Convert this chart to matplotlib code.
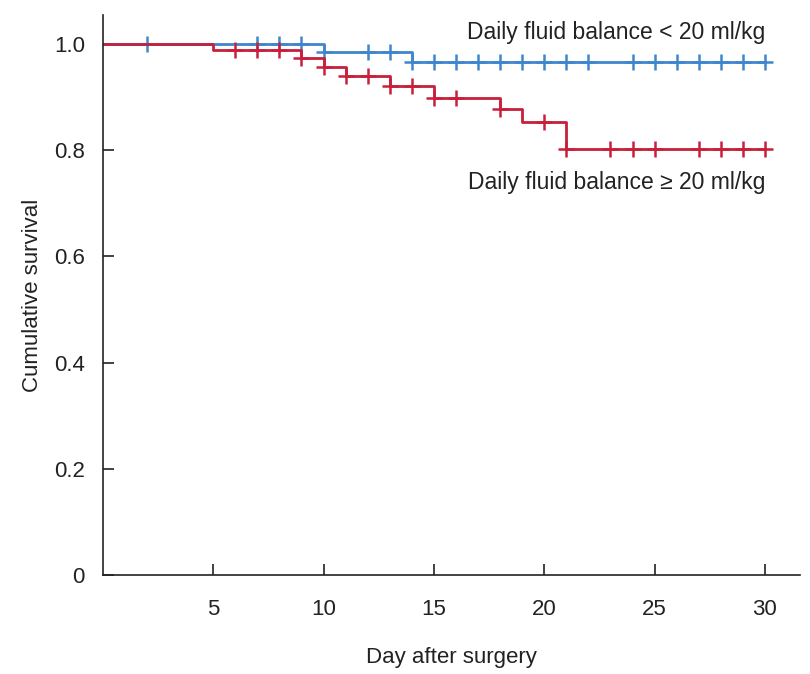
import numpy as np
import matplotlib
matplotlib.use("Agg")
import matplotlib.pyplot as plt

plt.rcParams["font.family"] = ["Liberation Sans", "DejaVu Sans"]

# Kaplan-Meier steps (time of drop, survival after drop)
low_t = [0, 10, 14, 30]
low_s = [1.0, 0.985, 0.966, 0.966]
high_t = [0, 5, 9, 10, 11, 13, 15, 18, 19, 21, 30]
high_s = [1.0, 0.989, 0.974, 0.957, 0.940, 0.920, 0.899, 0.877, 0.854, 0.802, 0.802]

# censored observations (day)
low_cens = [2, 7, 8, 9, 10, 12, 13, 14, 15, 16, 17, 18, 19, 20, 21, 22, 24, 25, 26, 27, 28, 29, 30]
high_cens = [6, 7, 8, 9, 10, 11, 12, 13, 14, 15, 16, 18, 20, 21, 23, 24, 25, 27, 28, 29, 30]

x_ticks = [5, 10, 15, 20, 25, 30]
y_ticks = [0, 0.2, 0.4, 0.6, 0.8, 1.0]
y_labels = ["0", "0.2", "0.4", "0.6", "0.8", "1.0"]

BLUE = "#3f86cc"
RED = "#c8203c"
INK = "#222222"


def surv_at(t, times, surv):
    i = np.searchsorted(times, t, side="right") - 1
    return surv[i]


fig = plt.figure(figsize=(8.1, 6.74), dpi=100)
ax = fig.add_axes([0.127, 0.147, 0.861, 0.831])

for t, s, cens, c in [(low_t, low_s, low_cens, BLUE), (high_t, high_s, high_cens, RED)]:
    ax.step(t, s, where="post", color=c, lw=2.0)
    ax.plot(cens, [surv_at(x, t, s) for x in cens], "+", color=c,
            ms=11, mew=1.8, ls="none")

ax.text(30, 1.021, "Daily fluid balance < 20 ml/kg", ha="right", va="center",
        fontsize=16.5, color=INK)
ax.text(30, 0.740, "Daily fluid balance \u2265 20 ml/kg", ha="right", va="center",
        fontsize=16.5, color=INK)

ax.set_xlim(0, 31.6)
ax.set_ylim(0, 1.055)
ax.set_xticks(x_ticks)
ax.set_yticks(y_ticks)
ax.set_yticklabels(y_labels)
ax.tick_params(axis="both", direction="in", length=8, width=1.2, labelsize=16,
               colors=INK)
ax.tick_params(axis="x", pad=17)
ax.tick_params(axis="y", pad=13)
for side in ["top", "right"]:
    ax.spines[side].set_visible(False)
for side in ["left", "bottom"]:
    ax.spines[side].set_linewidth(1.2)
    ax.spines[side].set_color(INK)

ax.set_xlabel("Day after surgery", fontsize=16, labelpad=20, color=INK)
ax.set_ylabel("Cumulative survival", fontsize=16, labelpad=8, color=INK)

fig.savefig("out.png", dpi=100)
